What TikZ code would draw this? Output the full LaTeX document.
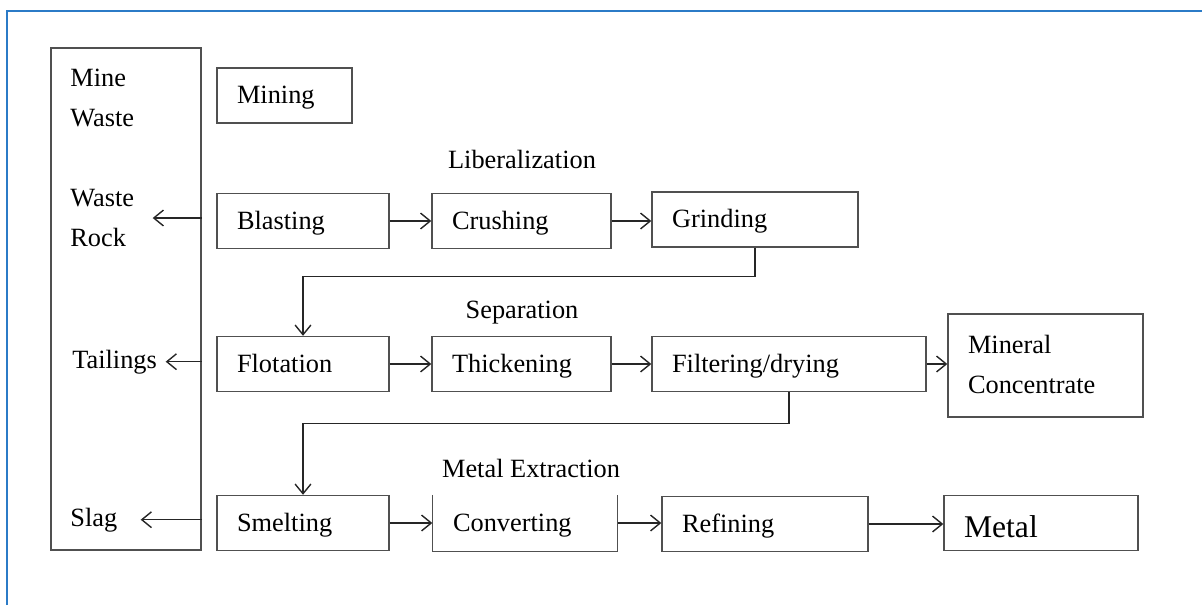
\documentclass[tikz,border=0pt]{standalone}
\usepackage{fontspec}
\setmainfont{Liberation Serif}
\usetikzlibrary{arrows.meta}
\definecolor{FrameBlue}{HTML}{2B7BC7}
\definecolor{LineGray}{HTML}{505050}

\begin{document}
\begin{tikzpicture}[
    x=0.02cm,
    y=0.02cm,
    font=\fontsize{15}{22.8}\selectfont,
    >={Straight Barb[length=5.5pt,width=9pt]},
    stage/.style={
        draw=LineGray,
        line width=0.8pt,
        inner xsep=0.4cm,
        inner ysep=0pt,
        align=left,
        text width=#1,
        minimum height=1.1cm,
        execute at begin node=\strut,
        execute at end node=\strut
    },
    side/.style={
        inner sep=0pt,
        align=left
    },
    phase/.style={
        inner sep=0pt,
        anchor=base
    },
    flow/.style={
        ->,
        draw=black!85,
        line width=0.8pt
    }
]

\useasboundingbox (0,0) rectangle (1202,-605);

% =====================================================
% FRAME
% =====================================================
\draw[
    FrameBlue,
    line width=1.1pt
]
(7,-605) -- (7,-11) -- (1202,-11);

% =====================================================
% WASTE COLUMN
% =====================================================
\node[
    draw=LineGray,
    line width=0.8pt,
    minimum width=3cm,
    minimum height=10.04cm,
    inner sep=0pt
]
(wastecol)
at (126,-299)
{};

\node[side, anchor=west] (minewaste) at (70,-98) {Mine\\Waste};
\node[side, anchor=west] (rock) at (70,-218) {Waste\\Rock};
\node[side, anchor=base west] (tail) at (72,-368) {Tailings};
\node[side, anchor=base west] (slag) at (70,-526) {Slag};

% =====================================================
% MINING
% =====================================================
\node[stage=1.9cm] (mining) at (284.5,-95.5) {Mining};

% =====================================================
% LIBERALIZATION
% =====================================================
\node[phase] (lib) at (522,-168) {Liberalization};

\node[stage=2.64cm] (blast) at (303,-221) {Blasting};
\node[stage=2.78cm] (crush) at (521.5,-221) {Crushing};
\node[stage=3.32cm] (grind) at (755,-219.5) {Grinding};

\draw[flow] (blast) -- (crush);
\draw[flow] (crush.east) -- (crush.east -| grind.west);

% =====================================================
% SEPARATION
% =====================================================
\node[phase] (sep) at (522,-318) {Separation};

\node[stage=2.64cm] (flot) at (303,-364) {Flotation};
\node[stage=2.78cm] (thick) at (521.5,-364) {Thickening};
\node[stage=4.68cm] (filt) at (789,-364) {Filtering/drying};
\node[
    stage=3.1cm,
    minimum height=2.06cm
]
(conc)
at (1045.5,-365.5)
{Mineral\\Concentrate};

\draw[flow] (grind.south) -- ++(0,-29) -| (flot.north);
\draw[flow] (flot) -- (thick);
\draw[flow] (thick) -- (filt);
\draw[flow] (filt.east) -- (filt.east -| conc.west);

% =====================================================
% METAL EXTRACTION
% =====================================================
\node[phase] (extr) at (531,-477) {Metal Extraction};

\node[stage=2.64cm] (smelt) at (303,-523) {Smelting};
\node[stage=2.88cm, draw=none] (conv) at (525,-523) {Converting};
\node[stage=3.32cm] (refin) at (765,-524) {Refining};
\node[
    stage=3.08cm,
    font=\fontsize{18}{22}\selectfont,
    text height=16.4pt,
    text depth=0pt
]
(metal)
at (1041,-523)
{Metal};

% open top edge
\draw[
    LineGray,
    line width=0.8pt
]
(conv.north west) -- (conv.south west) -- (conv.south east) -- (conv.north east);

\draw[flow] (filt.south) -- ++(0,-31) -| (smelt.north);
\draw[flow] (smelt) -- (conv);
\draw[flow] (conv.east) -- (conv.east -| refin.west);
\draw[flow] (refin.east) -- (refin.east -| metal.west);

% =====================================================
% WASTE STREAMS
% =====================================================
\draw[flow] (wastecol.east |- rock.west) -- ++(-49,0);
\draw[flow] (wastecol.east |- tail.west) -- ++(-36,0);
\draw[flow] (wastecol.east |- slag.west) -- ++(-61,0);

\end{tikzpicture}
\end{document}
